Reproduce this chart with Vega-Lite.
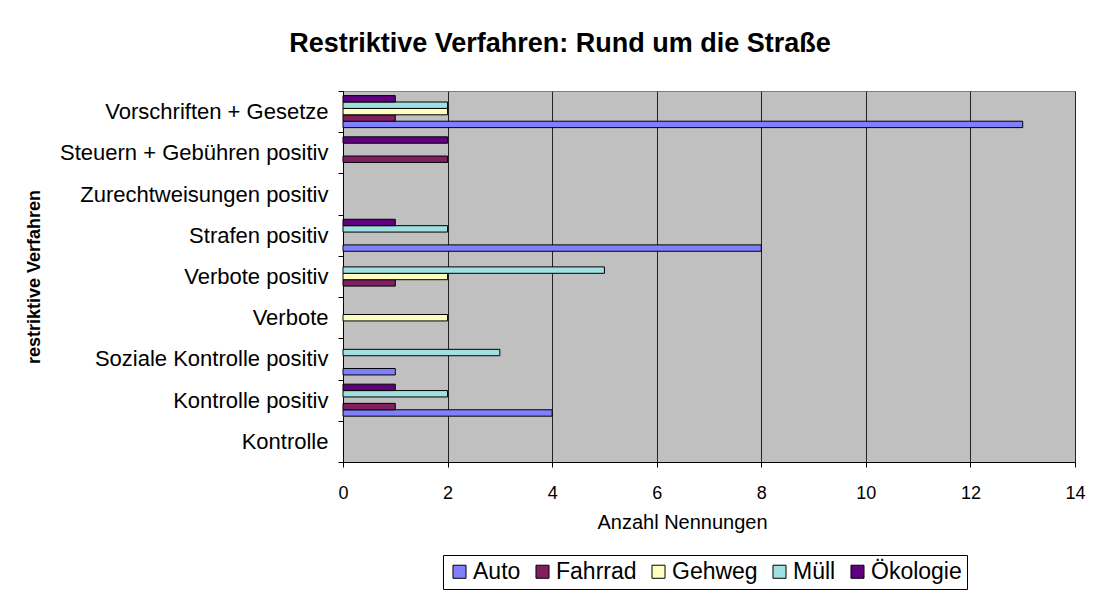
{
  "$schema": "https://vega.github.io/schema/vega-lite/v6.json",
  "autosize": "none",
  "width": 732,
  "height": 371,
  "padding": {"left": 343, "top": 91, "right": 27, "bottom": 139},
  "background": "white",
  "title": {
    "text": "Restriktive Verfahren: Rund um die Straße",
    "font": "Liberation Sans",
    "fontSize": 27,
    "fontWeight": "bold",
    "color": "black",
    "anchor": "middle",
    "baseline": "alphabetic",
    "offset": 1,
    "dx": -149
  },
  "data": {
    "values": [
      {"verfahren": "Vorschriften + Gesetze", "bereich": "Auto", "anzahl": 13},
      {"verfahren": "Vorschriften + Gesetze", "bereich": "Fahrrad", "anzahl": 1},
      {"verfahren": "Vorschriften + Gesetze", "bereich": "Gehweg", "anzahl": 2},
      {"verfahren": "Vorschriften + Gesetze", "bereich": "Müll", "anzahl": 2},
      {"verfahren": "Vorschriften + Gesetze", "bereich": "Ökologie", "anzahl": 1},
      {"verfahren": "Steuern + Gebühren positiv", "bereich": "Fahrrad", "anzahl": 2},
      {"verfahren": "Steuern + Gebühren positiv", "bereich": "Ökologie", "anzahl": 2},
      {"verfahren": "Strafen positiv", "bereich": "Auto", "anzahl": 8},
      {"verfahren": "Strafen positiv", "bereich": "Müll", "anzahl": 2},
      {"verfahren": "Strafen positiv", "bereich": "Ökologie", "anzahl": 1},
      {"verfahren": "Verbote positiv", "bereich": "Fahrrad", "anzahl": 1},
      {"verfahren": "Verbote positiv", "bereich": "Gehweg", "anzahl": 2},
      {"verfahren": "Verbote positiv", "bereich": "Müll", "anzahl": 5},
      {"verfahren": "Verbote", "bereich": "Gehweg", "anzahl": 2},
      {"verfahren": "Soziale Kontrolle positiv", "bereich": "Auto", "anzahl": 1},
      {"verfahren": "Soziale Kontrolle positiv", "bereich": "Müll", "anzahl": 3},
      {"verfahren": "Kontrolle positiv", "bereich": "Auto", "anzahl": 4},
      {"verfahren": "Kontrolle positiv", "bereich": "Fahrrad", "anzahl": 1},
      {"verfahren": "Kontrolle positiv", "bereich": "Müll", "anzahl": 2},
      {"verfahren": "Kontrolle positiv", "bereich": "Ökologie", "anzahl": 1}
    ]
  },
  "mark": {"type": "bar", "stroke": "black", "strokeWidth": 1},
  "encoding": {
    "y": {
      "field": "verfahren",
      "type": "nominal",
      "scale": {
        "domain": ["Vorschriften + Gesetze", "Steuern + Gebühren positiv", "Zurechtweisungen positiv", "Strafen positiv", "Verbote positiv", "Verbote", "Soziale Kontrolle positiv", "Kontrolle positiv", "Kontrolle"],
        "paddingInner": 0,
        "paddingOuter": 0
      },
      "axis": {
        "title": "restriktive Verfahren",
        "titleFont": "Liberation Sans",
        "titleFontSize": 18,
        "titleFontWeight": "bold",
        "titleColor": "black",
        "titlePadding": 100,
        "labelFont": "Liberation Sans",
        "labelFontSize": 22,
        "labelColor": "black",
        "labelLimit": 400,
        "labelPadding": 10,
        "tickSize": 5,
        "tickColor": "black",
        "domainColor": "black",
        "bandPosition": 0,
        "tickBand": "extent",
        "grid": false
      }
    },
    "yOffset": {
      "field": "bereich",
      "type": "nominal",
      "scale": {
        "domain": ["Ökologie", "Müll", "Gehweg", "Fahrrad", "Auto"],
        "paddingInner": 0,
        "paddingOuter": 0.72
      }
    },
    "x": {
      "field": "anzahl",
      "type": "quantitative",
      "scale": {"domain": [0, 14]},
      "axis": {
        "title": "Anzahl Nennungen",
        "titleFont": "Liberation Sans",
        "titleFontSize": 20,
        "titleFontWeight": "normal",
        "titleColor": "black",
        "titlePadding": 10,
        "titleX": 339,
        "titleAlign": "center",
        "values": [0, 2, 4, 6, 8, 10, 12, 14],
        "labelFont": "Liberation Sans",
        "labelFontSize": 18,
        "labelColor": "black",
        "labelPadding": 17,
        "labelFlush": false,
        "tickSize": 5,
        "tickColor": "black",
        "domainColor": "black",
        "grid": true,
        "gridColor": "#222222",
        "gridWidth": 1
      }
    },
    "color": {
      "field": "bereich",
      "type": "nominal",
      "scale": {
        "domain": ["Auto", "Fahrrad", "Gehweg", "Müll", "Ökologie"],
        "range": ["#8080FF", "#802060", "#FFFFC0", "#A0E0E0", "#600080"]
      },
      "legend": {
        "title": null,
        "orient": "none",
        "direction": "horizontal",
        "legendX": 100,
        "legendY": 464,
        "columns": 5,
        "gridAlign": "each",
        "strokeColor": "black",
        "fillColor": "white",
        "padding": 5,
        "symbolType": "square",
        "symbolSize": 170,
        "symbolStrokeColor": "black",
        "symbolStrokeWidth": 1,
        "labelFont": "Liberation Sans",
        "labelFontSize": 23,
        "labelColor": "black",
        "labelOffset": 2,
        "columnPadding": 10
      }
    }
  },
  "config": {
    "font": "Liberation Sans",
    "view": {"fill": "#C0C0C0", "stroke": "#808080", "strokeWidth": 1}
  }
}
